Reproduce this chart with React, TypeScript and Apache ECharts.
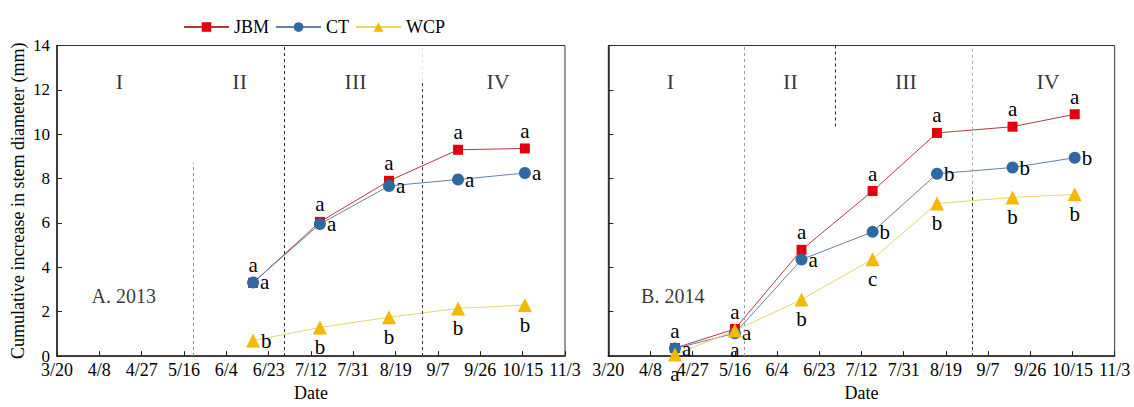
import React, { useEffect, useRef } from 'react';
import * as echarts from 'echarts';

// ---- data ----
const xTickLabels = ['3/20', '4/8', '4/27', '5/16', '6/4', '6/23', '7/12', '7/31', '8/19', '9/7', '9/26', '10/15', '11/3'];
const tickStepDays = 19;
const yMax = 14;
const yInterval = 2;

const seriesNames = ['JBM', 'CT', 'WCP'];

const dates2013 = ['6/16', '7/16', '8/16', '9/16', '10/16'];
const jbm2013 = [3.3, 6.05, 7.9, 9.3, 9.36];
const ct2013 = [3.32, 5.95, 7.67, 7.96, 8.25];
const wcp2013 = [0.7, 1.29, 1.75, 2.15, 2.3];
const jbmLetters2013 = ['a', 'a', 'a', 'a', 'a'];
const ctLetters2013 = ['a', 'a', 'a', 'a', 'a'];
const wcpLetters2013 = ['b', 'b', 'b', 'b', 'b'];

const dates2014 = ['4/19', '5/16', '6/15', '7/17', '8/15', '9/18', '10/16'];
const jbm2014 = [0.36, 1.22, 4.79, 7.44, 10.06, 10.34, 10.9];
const ct2014 = [0.34, 1.03, 4.35, 5.6, 8.22, 8.5, 8.94];
const wcp2014 = [0.07, 1.15, 2.55, 4.37, 6.88, 7.15, 7.29];
const jbmLetters2014 = ['a', 'a', 'a', 'a', 'a', 'a', 'a'];
const ctLetters2014 = ['a', 'a', 'a', 'b', 'b', 'b', 'b'];
const wcpLetters2014 = ['a', 'a', 'b', 'c', 'b', 'b', 'b'];

const stageNames = ['I', 'II', 'III', 'IV'];
const stageLabelDates = ['4/17', '6/10', '8/1', '10/4'];
const stageLabelY = 12.37;
const stageBoundaryDates = ['5/20', '6/30', '8/31'];

const panelTitles = ['A. 2013', 'B. 2014'];
const panelTitleDates = ['4/19', '4/18'];
const panelTitleY = 2.7;

const FONT = 'Liberation Serif';
const colors: Record<string, string> = { JBM: '#e3000f', CT: '#2f69a3', WCP: '#f5b800' };
const lineColors: Record<string, string> = { JBM: '#b83a3e', CT: '#6282a8', WCP: '#ecd46a' };
const symbols: Record<string, string> = { JBM: 'rect', CT: 'circle', WCP: 'triangle' };
const symbolSizes: Record<string, number> = { JBM: 10, CT: 12, WCP: 14 };

function dayOffset(md: string): number {
  const [m, d] = md.split('/').map(Number);
  return Math.round((Date.UTC(2013, m - 1, d) - Date.UTC(2013, 2, 20)) / 86400000);
}

function makeLineSeries(
  name: string,
  dates: string[],
  values: number[],
  letters: string[],
  pos: string[],
  axisIndex: number
) {
  return {
    type: 'line',
    name,
    xAxisIndex: axisIndex,
    yAxisIndex: axisIndex,
    symbol: symbols[name],
    symbolSize: symbolSizes[name],
    itemStyle: { color: colors[name] },
    lineStyle: { color: lineColors[name], width: 1 },
    clip: false,
    z: 3,
    data: dates.map((d, i) => ({
      value: [dayOffset(d), values[i]],
      label: {
        show: true,
        formatter: letters[i],
        position: pos[i],
        distance: pos[i] === 'right' ? 1 : 2,
        fontSize: 21,
        fontFamily: FONT,
        color: '#000',
      },
    })),
  };
}

function vline(date: string, y0: number, y1: number, color: string) {
  const x = dayOffset(date);
  return [
    { coord: [x, y0], lineStyle: { color, type: [3, 3], width: 1 } },
    { coord: [x, y1] },
  ];
}

export default function App() {
  const ref = useRef<HTMLDivElement>(null);
  useEffect(() => {
    document.body.style.margin = '0';
    if (!ref.current) return;
    const chart = echarts.init(ref.current, null, { renderer: 'svg' });

    const grids = [
      { left: 57, top: 45.5, width: 508, height: 316, show: true, borderColor: '#333', borderWidth: 1 },
      { left: 608.3, top: 45.5, width: 506.4, height: 316, show: true, borderColor: '#333', borderWidth: 1 },
    ];

    const xAxes = [0, 1].map((i) => ({
      type: 'value',
      gridIndex: i,
      min: 0,
      max: tickStepDays * (xTickLabels.length - 1),
      interval: tickStepDays,
      name: 'Date',
      nameLocation: 'middle',
      nameGap: 27,
      nameTextStyle: { fontSize: 18, fontFamily: FONT, color: '#000' },
      axisLine: { show: true, lineStyle: { color: '#222', width: 1.5 } },
      axisTick: { show: true, inside: true, length: 5, lineStyle: { color: '#222' } },
      splitLine: { show: false },
      axisLabel: {
        fontSize: 18,
        fontFamily: FONT,
        color: '#000',
        margin: 5,
        formatter: (v: number) => xTickLabels[Math.round(v / tickStepDays)] ?? '',
      },
    }));

    const yAxes = [0, 1].map((i) => ({
      type: 'value',
      gridIndex: i,
      min: 0,
      max: yMax,
      interval: yInterval,
      name: i === 0 ? 'Cumulative increase in stem diameter (mm)' : '',
      nameLocation: 'middle',
      nameGap: 30,
      nameTextStyle: { fontSize: 18, fontFamily: FONT, color: '#000' },
      axisLine: { show: true, lineStyle: { color: '#222', width: 1.5 } },
      axisTick: { show: true, inside: true, length: 5, lineStyle: { color: '#222' } },
      splitLine: { show: false },
      axisLabel: {
        show: i === 0,
        fontSize: 17,
        fontFamily: FONT,
        color: '#000',
        margin: 7,
      },
    }));

    const series: any[] = [];

    // 2013 panel
    series.push(makeLineSeries('JBM', dates2013, jbm2013, jbmLetters2013, dates2013.map(() => 'top'), 0));
    series.push(makeLineSeries('CT', dates2013, ct2013, ctLetters2013, dates2013.map(() => 'right'), 0));
    series.push(
      makeLineSeries('WCP', dates2013, wcp2013, wcpLetters2013, dates2013.map((_, i) => (i === 0 ? 'right' : 'bottom')), 0)
    );
    // 2014 panel
    series.push(makeLineSeries('JBM', dates2014, jbm2014, jbmLetters2014, dates2014.map(() => 'top'), 1));
    series.push(makeLineSeries('CT', dates2014, ct2014, ctLetters2014, dates2014.map(() => 'right'), 1));
    series.push(makeLineSeries('WCP', dates2014, wcp2014, wcpLetters2014, dates2014.map(() => 'bottom'), 1));

    const markLines = [
      [
        vline(stageBoundaryDates[0], 0, 8.7, '#8a8a8a'),
        vline(stageBoundaryDates[1], 0, 14, '#222'),
        vline(stageBoundaryDates[2], 0, 12.4, '#333'),
        vline(stageBoundaryDates[2], 12.4, 14, '#e4e4e4'),
      ],
      [
        vline(stageBoundaryDates[0], 0, 14, '#9a9a9a'),
        vline(stageBoundaryDates[1], 10.35, 14, '#222'),
        vline(stageBoundaryDates[2], 7.5, 14, '#aaaaaa'),
        vline(stageBoundaryDates[2], 0, 7.5, '#333'),
      ],
    ];

    [0, 1].forEach((i) => {
      series.push({
        type: 'scatter',
        xAxisIndex: i,
        yAxisIndex: i,
        symbolSize: 0,
        silent: true,
        z: 1,
        data: stageNames.map((n, k) => ({
          value: [dayOffset(stageLabelDates[k]), stageLabelY],
          label: {
            show: true,
            formatter: n,
            position: 'inside',
            fontSize: 22,
            fontFamily: FONT,
            color: '#000',
          },
        })),
        markLine: {
          silent: true,
          symbol: 'none',
          label: { show: false },
          animation: false,
          data: markLines[i],
        },
      });
      series.push({
        type: 'scatter',
        xAxisIndex: i,
        yAxisIndex: i,
        symbolSize: 0,
        silent: true,
        data: [
          {
            value: [dayOffset(panelTitleDates[i]), panelTitleY],
            label: {
              show: true,
              formatter: panelTitles[i],
              position: 'inside',
              fontSize: 20,
              fontFamily: FONT,
              color: '#000',
            },
          },
        ],
      });
    });

    chart.setOption({
      animation: false,
      backgroundColor: '#fff',
      textStyle: { fontFamily: FONT },
      legend: {
        data: seriesNames,
        left: 178,
        top: 13,
        itemWidth: 45,
        itemHeight: 12,
        itemGap: 6,
        textStyle: { fontSize: 18, fontFamily: FONT, color: '#000' },
      },
      grid: grids,
      xAxis: xAxes,
      yAxis: yAxes,
      series,
    });
    return () => chart.dispose();
  }, []);
  return <div ref={ref} style={{ width: 1134, height: 407 }} />;
}
